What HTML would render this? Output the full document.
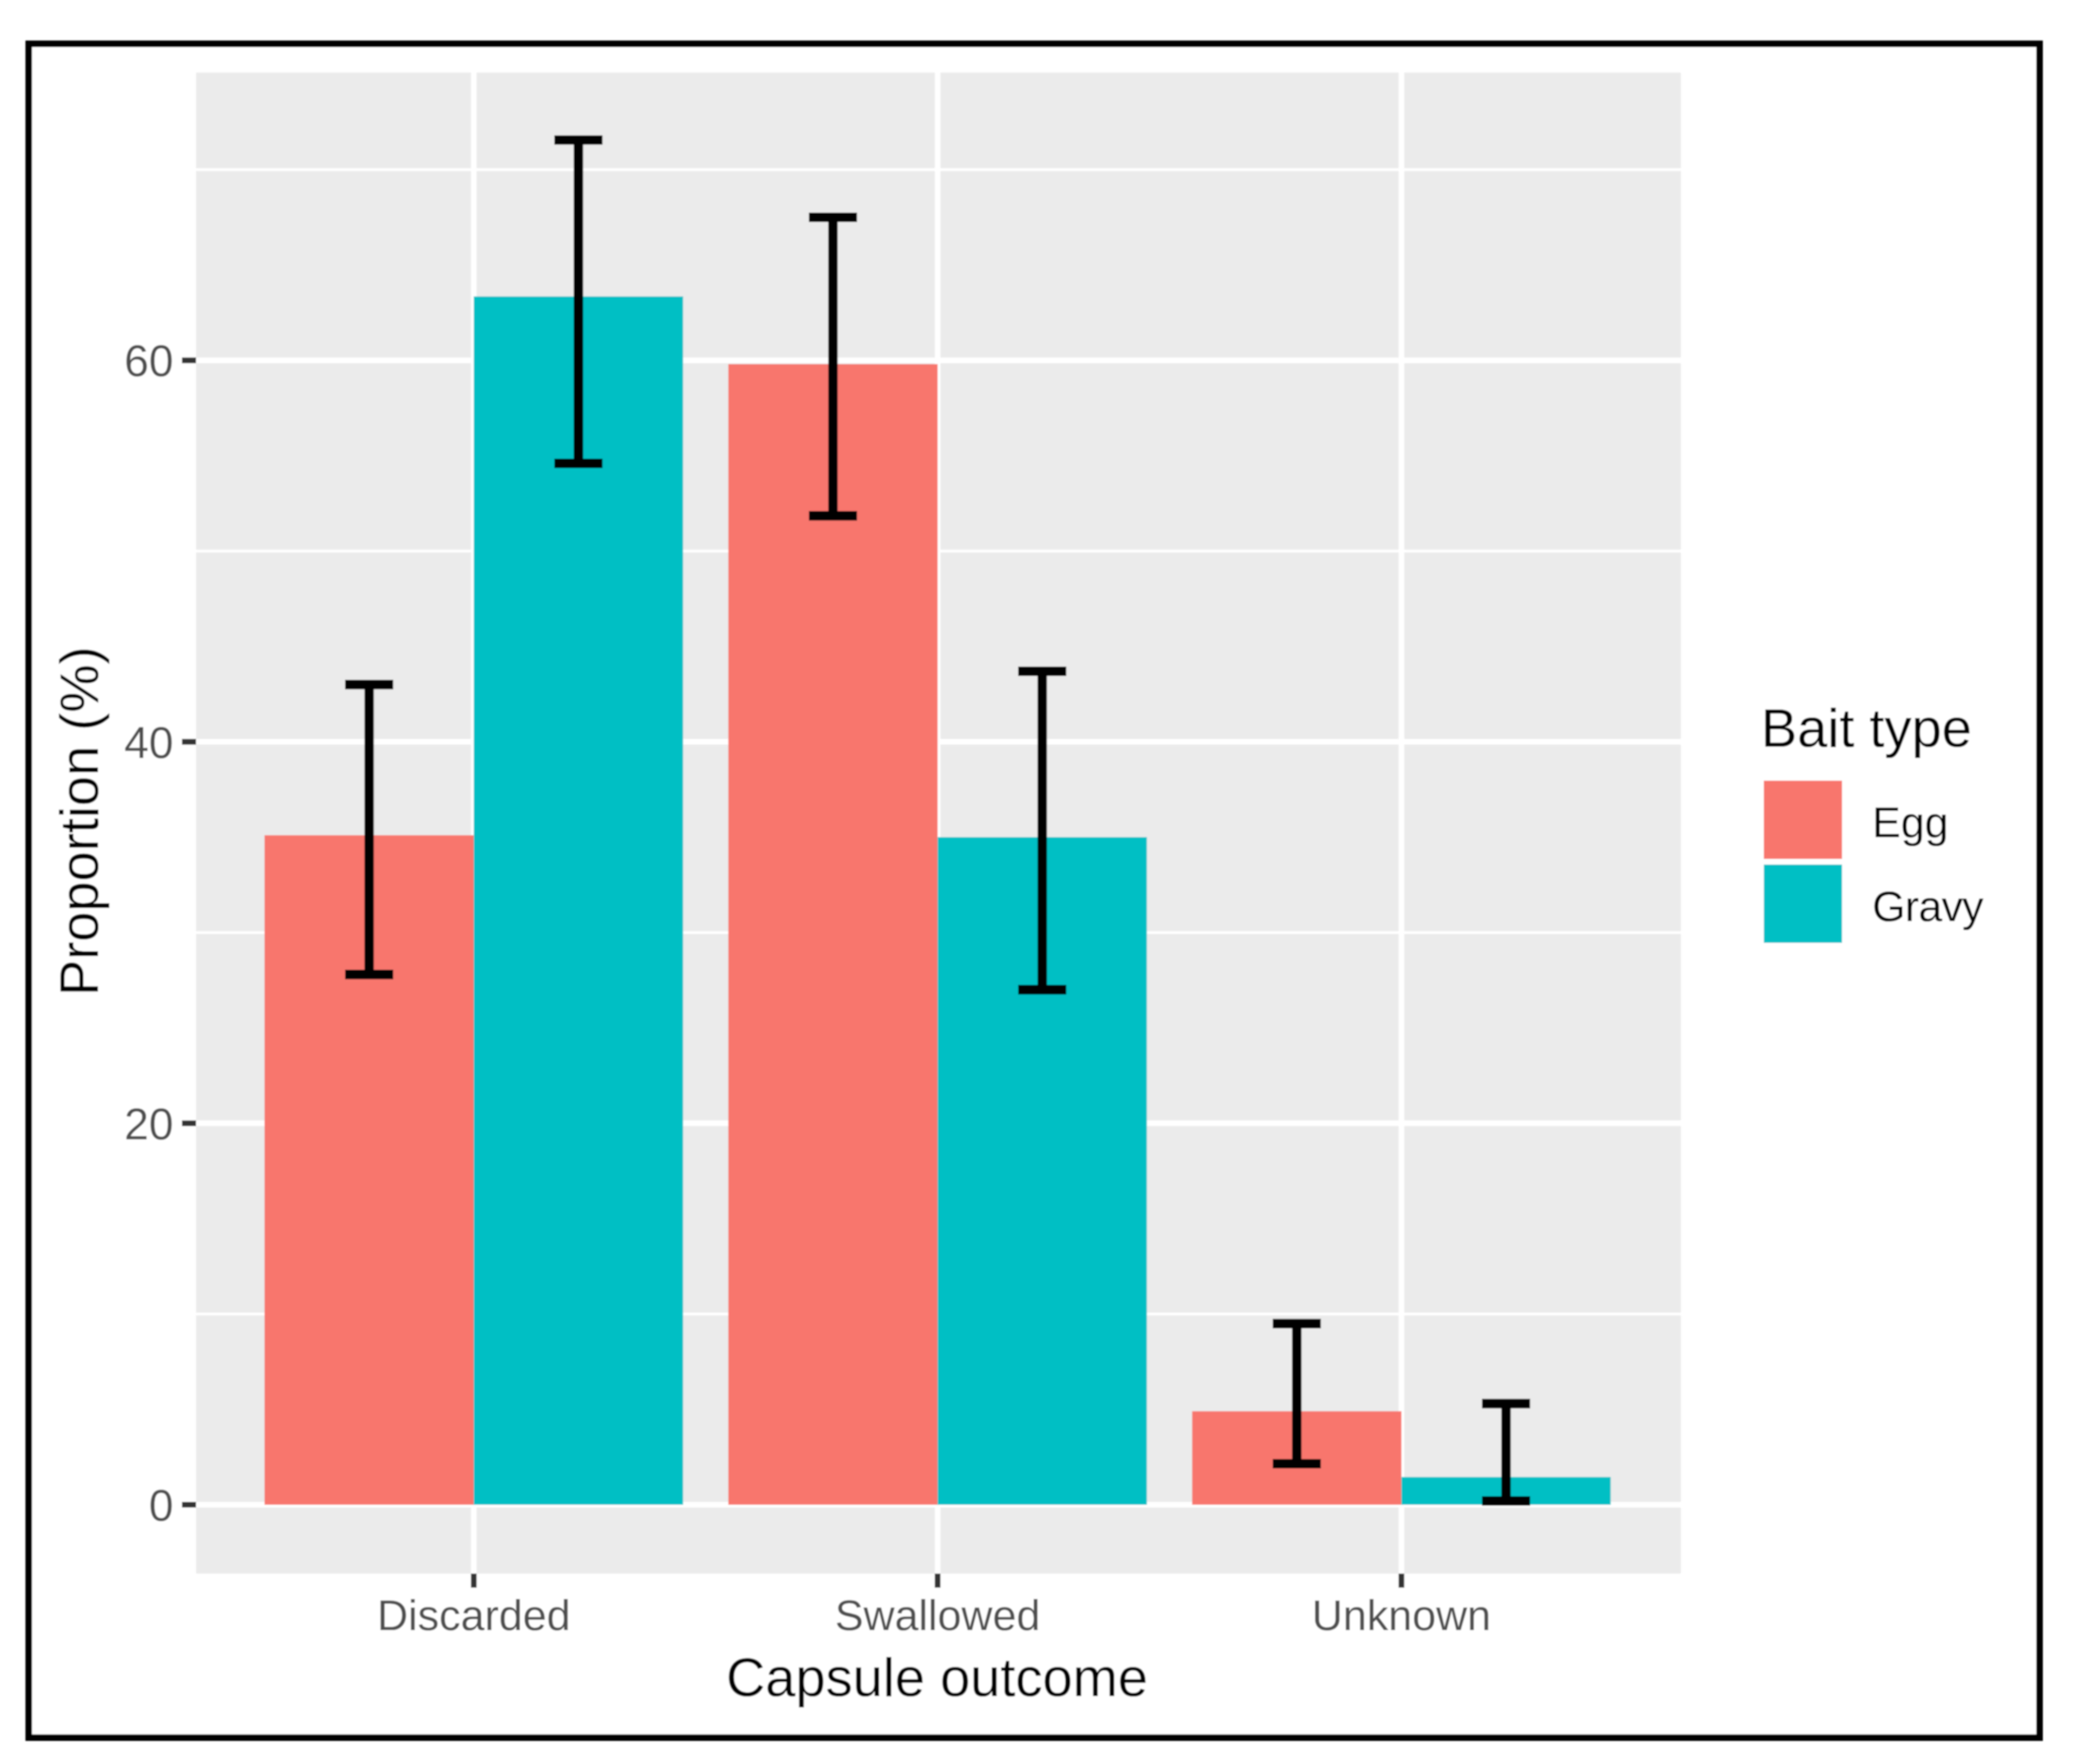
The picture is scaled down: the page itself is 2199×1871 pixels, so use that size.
<!DOCTYPE html>
<html lang="en">
<head>
<meta charset="utf-8">
<title>Capsule outcome by bait type</title>
<style>
  html, body { margin: 0; padding: 0; background: #fff; }
  body { width: 2199px; height: 1871px; overflow: hidden; }
  svg { display: block; }
  text { font-family: "Liberation Sans", sans-serif; }
</style>
</head>
<body>
<svg id="chart" xmlns="http://www.w3.org/2000/svg" width="2199" height="1871" viewBox="0 0 2199 1871">
  <defs>
    <filter id="soft" x="-2%" y="-2%" width="104%" height="104%"><feGaussianBlur stdDeviation="0.7"/></filter>
  </defs>
  <rect x="0" y="0" width="2199" height="1871" fill="#ffffff"/>
  <g id="root" filter="url(#soft)">
    <rect x="30.5" y="46.5" width="2133" height="1796.5" fill="#ffffff" stroke="#000000" stroke-width="7"/>
    <rect x="208" y="77" width="1575" height="1592" fill="#ebebeb"/>
    <g id="grid"></g>
    <g id="bars"></g>
    <g id="errors"></g>
    <g id="axes"></g>
    <text x="994" y="1799" font-size="57.5" text-anchor="middle" fill="#000000">Capsule outcome</text>
    <text transform="translate(104 871) rotate(-90)" font-size="57.5" text-anchor="middle" fill="#000000">Proportion (%)</text>
    <g>
      <text x="1868" y="792" font-size="57.5" fill="#000000">Bait type</text>
      <rect x="1871" y="828" width="83" height="83" fill="#F8766D"/>
      <text x="1986" y="888" font-size="45.5" fill="#000000">Egg</text>
      <rect x="1871" y="917" width="83" height="83" fill="#00BFC4"/>
      <text x="1986" y="977" font-size="45.5" letter-spacing="-0.8" fill="#000000">Gravy</text>
    </g>
  </g>
</svg>
<script>
const categories = ["Discarded", "Swallowed", "Unknown"];
const eggValues = [35.1, 59.8, 4.9];
const gravyValues = [63.35, 35.0, 1.45];
const eggLower = [27.8, 51.85, 2.15];
const eggUpper = [43.0, 67.5, 9.5];
const gravyLower = [54.6, 27.0, 0.2];
const gravyUpper = [71.55, 43.7, 5.3];
const yTickLabels = [0, 20, 40, 60];
const yMinorTicks = [10, 30, 50, 70];

const NS = "http://www.w3.org/2000/svg";
const categoryBase = 502.6;
const categoryStep = 492;
const yZero = 1596;
const yPerUnit = 20.23;
const barWidth = 222;
const panelLeft = 208;
const panelRight = 1783;
const panelTop = 77;
const panelBottom = 1669;

function xScale(i) { return categoryBase + categoryStep * i; }
function yScale(v) { return yZero - yPerUnit * v; }
function make(tag, attrs, parent) {
  const el = document.createElementNS(NS, tag);
  for (const k in attrs) el.setAttribute(k, attrs[k]);
  parent.appendChild(el);
  return el;
}

const grid = document.getElementById("grid");
const bars = document.getElementById("bars");
const errors = document.getElementById("errors");
const axes = document.getElementById("axes");

yMinorTicks.forEach(function (v) {
  const el = make("line", { x1: panelLeft, x2: panelRight, y1: yScale(v), y2: yScale(v), stroke: "#ffffff", "stroke-width": 3 }, grid);
  
  
});
yTickLabels.forEach(function (v) {
  const el = make("line", { x1: panelLeft, x2: panelRight, y1: yScale(v), y2: yScale(v), stroke: "#ffffff", "stroke-width": 6 }, grid);
  
  
  const tick = make("line", { x1: panelLeft - 15, x2: panelLeft, y1: yScale(v), y2: yScale(v), stroke: "#333333", "stroke-width": 6 }, axes);
  
  
  const label = make("text", { x: 184, y: yScale(v) + 17, "font-size": 47, "text-anchor": "end", fill: "#4d4d4d" }, axes);
  
  
  label.textContent = String(v);
});
categories.forEach(function (name, i) {
  const cx = xScale(i);
  const el = make("line", { x1: cx, x2: cx, y1: panelTop, y2: panelBottom, stroke: "#ffffff", "stroke-width": 6 }, grid);
  
  
  const tick = make("line", { x1: cx, x2: cx, y1: panelBottom, y2: panelBottom + 15, stroke: "#333333", "stroke-width": 6 }, axes);
  
  
  const label = make("text", { x: cx, y: 1729, "font-size": 45.6, "text-anchor": "middle", fill: "#4d4d4d" }, axes);
  
  
  label.textContent = name;

  const eggBar = make("rect", { x: cx - barWidth, y: yScale(eggValues[i]), width: barWidth, height: yZero - yScale(eggValues[i]), fill: "#F8766D" }, bars);
  
  
  const gravyBar = make("rect", { x: cx, y: yScale(gravyValues[i]), width: barWidth, height: yZero - yScale(gravyValues[i]), fill: "#00BFC4" }, bars);
  
  

  drawError(cx - barWidth / 2, eggLower[i], eggUpper[i], 'error-bar-egg');
  drawError(cx + barWidth / 2, gravyLower[i], gravyUpper[i], 'error-bar-gravy');
});

function drawError(x, lo, hi, name) {
  const g = make("g", { stroke: "#000000", "stroke-width": 10, fill: "none" }, errors);
  
  
  make("line", { x1: x, x2: x, y1: yScale(hi), y2: yScale(lo) }, g);
  make("line", { x1: x - 25.5, x2: x + 25.5, y1: yScale(hi), y2: yScale(hi) }, g);
  make("line", { x1: x - 25.5, x2: x + 25.5, y1: yScale(lo), y2: yScale(lo) }, g);
}
</script>
</body>
</html>
